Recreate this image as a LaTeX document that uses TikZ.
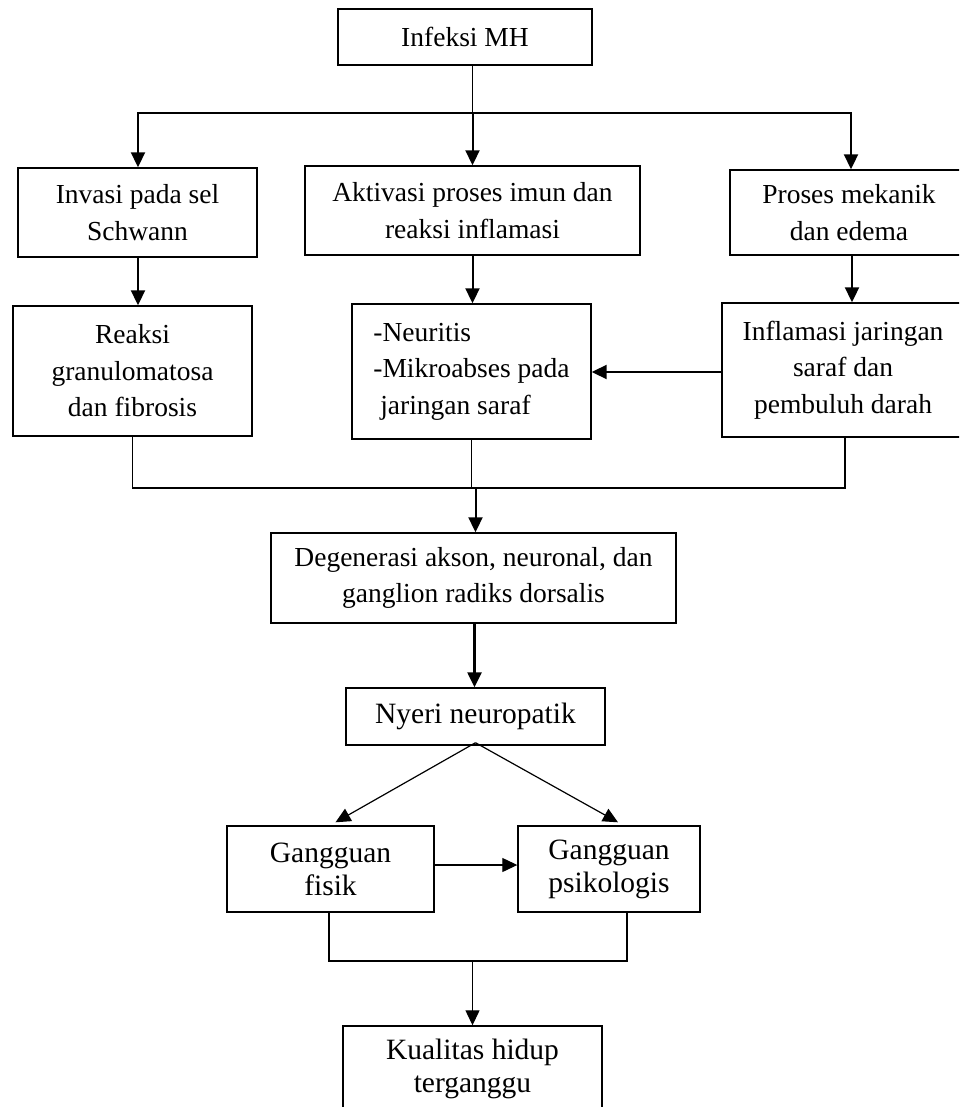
\documentclass[tikz,border=0pt]{standalone}
\usepackage{fontspec}
\setmainfont{Liberation Serif}
\usetikzlibrary{arrows.meta,calc}

\tikzset{
  box/.style={draw, line width=1.4pt, inner sep=0pt, align=center,
              font=\fontsize{27.5}{36.5}\selectfont},
  boxlow/.style={box, font=\fontsize{29.5}{33}\selectfont},
  link/.style={line width=1.4pt},
  arr/.style={line width=1.4pt, -{Triangle[length=15pt 0 0,width=14pt 0 0]}},
  thickarr/.style={line width=2.4pt, -{Triangle[length=15pt 0 0,width=14pt 0 0]}},
}

\begin{document}
\begin{tikzpicture}[x=1pt,y=-1pt]
  \useasboundingbox (0,0) rectangle (959,1107);
  \clip (0,0) rectangle (959,1107);
  \fill[white] (0,0) rectangle (959,1107);

  % boxes
  \node[box, minimum width=254pt, minimum height=56pt] (mh) at (465,37) {Infeksi MH};
  \node[box, minimum width=239pt, minimum height=89pt] (invasi) at (137.5,212.5) {Invasi pada sel\\Schwann};
  \node[box, minimum width=335pt, minimum height=89pt] (aktivasi) at (472.5,210.5) {Aktivasi proses imun dan\\reaksi inflamasi};
  \node[box, minimum width=238pt, minimum height=85pt] (proses) at (849,212.5) {Proses mekanik\\dan edema};
  \node[box, minimum width=239pt, minimum height=130pt] (reaksi) at (132.5,371) {Reaksi\\granulomatosa\\dan fibrosis};
  \node[box, minimum width=239pt, minimum height=135pt, align=left] (neuritis) at (471.5,371.5)
       {-Neuritis\\-Mikroabses pada\\\hspace*{0.25em}jaringan saraf};
  \node[box, minimum width=242pt, minimum height=134pt] (inflamasi) at (843,370) {Inflamasi jaringan\\saraf dan\\pembuluh darah};
  \node[box, minimum width=405pt, minimum height=90pt] (degen) at (473.5,578) {Degenerasi akson, neuronal, dan\\ganglion radiks dorsalis};
  \node[boxlow, minimum width=259pt, minimum height=57pt] (nyeri) at (475.5,716.5) {Nyeri neuropatik};
  \node[boxlow, minimum width=207pt, minimum height=86pt] (fisik) at (330.5,869) {Gangguan\\fisik};
  \node[boxlow, minimum width=182pt, minimum height=86pt] (psiko) at (609,869) {Gangguan\\psikologis};
  \node[boxlow, minimum width=259pt, minimum height=86pt] (kualitas) at (472.5,1069) {Kualitas hidup\\terganggu};

  % branching below the first box
  \coordinate (jtop) at (aktivasi.north |- 0,113);
  \draw[link] (aktivasi.north |- mh.south) -- (jtop);
  \draw[arr, line width=2pt] (jtop) -| ([xshift=0.5pt]invasi.north);
  \draw[arr, line width=2pt] (jtop) -- (aktivasi.north);
  \draw[arr, line width=2pt] (jtop) -| ([xshift=2pt]proses.north);

  % second row to third row
  \draw[arr, line width=2pt] ([xshift=0.5pt]invasi.south) -- ([xshift=0.5pt]invasi.south |- reaksi.north);
  \draw[arr, line width=2pt] (aktivasi.south) -- (aktivasi.south |- neuritis.north);
  \draw[arr, line width=2pt] ([xshift=3pt]proses.south) -- ([xshift=3pt]proses.south |- inflamasi.north);
  \draw[arr, line width=2pt] ([yshift=-2pt]inflamasi.west) -- ([yshift=-2pt]inflamasi.west -| neuritis.east);

  % joining into the degeneration box
  \coordinate (jmid) at (degen.north |- 0,488);
  \draw[link] ([xshift=2pt]inflamasi.south) |- (reaksi.south |- jmid) -- (reaksi.south);
  \draw[link] (neuritis.south) -- (neuritis.south |- jmid);
  \draw[arr, line width=2pt] ([xshift=2pt]jmid) -- ([xshift=2pt]degen.north);

  \draw[thickarr] ([xshift=1pt]degen.south) -- ([xshift=1pt]degen.south |- nyeri.north);

  % split into the two disturbances
  \coordinate (nsplit) at ([yshift=3pt]nyeri.south);
  \draw[arr, line width=1.2pt] (nsplit) -- ($(fisik.north)+(5,-3)$);
  \draw[arr, line width=1.2pt] (nsplit) -- ($(psiko.north)+(9,-3)$);
  \draw[arr, line width=1.2pt] ([yshift=4pt]fisik.east) -- ([yshift=4pt]psiko.west);

  % joining into the last box
  \coordinate (jlow) at (kualitas.north |- 0,961);
  \draw[link, line width=1.2pt] ([xshift=-1.5pt]fisik.south) |- ([xshift=18pt]psiko.south |- jlow) -- ([xshift=18pt]psiko.south);
  \draw[arr, line width=1.2pt] (jlow) -- (kualitas.north);
\end{tikzpicture}
\end{document}
